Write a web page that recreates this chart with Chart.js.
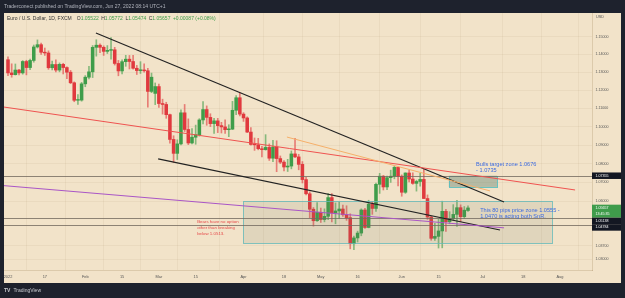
<!DOCTYPE html>
<html>
<head>
<title>EUR/USD 1D</title>
<script src="https://cdn.jsdelivr.net/npm/chart.js"></script>
<style>
  html, body { margin: 0; padding: 0; background: #1e222d; }
  canvas { display: block; }
</style>
</head>
<body>
<canvas id="chart" width="625" height="298"></canvas>
<script>
// daily candles, FXCM EUR/USD, Jan 3 - Jun 27 2022
const dates = [
  'Jan 3','Jan 4','Jan 5','Jan 6','Jan 7','Jan 10','Jan 11','Jan 12','Jan 13','Jan 14','Jan 17','Jan 18','Jan 19','Jan 20','Jan 21','Jan 24','Jan 25','Jan 26','Jan 27','Jan 28','Jan 31',
  'Feb 1','Feb 2','Feb 3','Feb 4','Feb 7','Feb 8','Feb 9','Feb 10','Feb 11','Feb 14','Feb 15','Feb 16','Feb 17','Feb 18','Feb 21','Feb 22','Feb 23','Feb 24','Feb 25','Feb 28',
  'Mar 1','Mar 2','Mar 3','Mar 4','Mar 7','Mar 8','Mar 9','Mar 10','Mar 11','Mar 14','Mar 15','Mar 16','Mar 17','Mar 18','Mar 21','Mar 22','Mar 23','Mar 24','Mar 25','Mar 28','Mar 29','Mar 30','Mar 31',
  'Apr 1','Apr 4','Apr 5','Apr 6','Apr 7','Apr 8','Apr 11','Apr 12','Apr 13','Apr 14','Apr 15','Apr 18','Apr 19','Apr 20','Apr 21','Apr 22','Apr 25','Apr 26','Apr 27','Apr 28','Apr 29',
  'May 2','May 3','May 4','May 5','May 6','May 9','May 10','May 11','May 12','May 13','May 16','May 17','May 18','May 19','May 20','May 23','May 24','May 25','May 26','May 27','May 30','May 31',
  'Jun 1','Jun 2','Jun 3','Jun 6','Jun 7','Jun 8','Jun 9','Jun 10','Jun 13','Jun 14','Jun 15','Jun 16','Jun 17','Jun 20','Jun 21','Jun 22','Jun 23','Jun 24','Jun 27'
];
const opens = [
  1.1370,1.1296,1.1286,1.1312,1.1296,1.1360,1.1326,1.1366,1.1442,1.1455,1.1412,1.1408,1.1325,1.1343,1.1312,1.1344,1.1326,1.1300,1.1241,1.1144,1.1145,
  1.1235,1.1272,1.1302,1.1440,1.1452,1.1440,1.1417,1.1423,1.1426,1.1349,1.1307,1.1359,1.1373,1.1360,1.1322,1.1309,1.1310,1.1308,1.1193,1.1182,
  1.1220,1.1126,1.1121,1.1065,1.0930,1.0855,1.0906,1.1075,1.0984,1.0911,1.0942,1.0956,1.1036,1.1093,1.1050,1.1016,1.1031,1.1005,1.0998,1.0983,1.0986,1.1089,1.1158,
  1.1068,1.1047,1.0970,1.0903,1.0901,1.0880,1.0875,1.0887,1.0829,1.0889,1.0827,1.0808,1.0782,1.0787,1.0852,1.0836,1.0796,1.0715,1.0640,1.0559,1.0499,
  1.0543,1.0505,1.0522,1.0620,1.0540,1.0550,1.0560,1.0530,1.0515,1.0380,1.0410,1.0435,1.0555,1.0464,1.0585,1.0563,1.0690,1.0733,1.0676,1.0725,1.0733,1.0780,
  1.0733,1.0648,1.0750,1.0718,1.0695,1.0705,1.0716,1.0615,1.0518,1.0408,1.0418,1.0446,1.0548,1.0494,1.0509,1.0532,1.0567,1.0520,1.05522
];
const highs = [
  1.1386,1.1347,1.1346,1.1316,1.1365,1.1367,1.1374,1.1453,1.1482,1.1464,1.1436,1.1420,1.1363,1.1369,1.1352,1.1350,1.1330,1.1310,1.1246,1.1175,1.1243,
  1.1281,1.1333,1.1450,1.1483,1.1460,1.1448,1.1450,1.1495,1.1440,1.1366,1.1369,1.1395,1.1394,1.1395,1.1338,1.1359,1.1347,1.1321,1.1295,1.1240,
  1.1234,1.1150,1.1133,1.1068,1.0950,1.0928,1.1092,1.1121,1.1042,1.0989,1.1008,1.1043,1.1137,1.1113,1.1070,1.1045,1.1045,1.1023,1.1037,1.1010,1.1138,1.1170,1.1185,
  1.1076,1.1053,1.0995,1.0938,1.0936,1.0893,1.0956,1.0906,1.0925,1.0923,1.0841,1.0816,1.0823,1.0868,1.0936,1.0850,1.0811,1.0727,1.0650,1.0568,1.0594,
  1.0565,1.0561,1.0641,1.0641,1.0592,1.0597,1.0580,1.0577,1.0535,1.0419,1.0445,1.0561,1.0564,1.0606,1.0600,1.0696,1.0748,1.0737,1.0733,1.0765,1.0787,1.0782,
  1.0740,1.0751,1.0765,1.0751,1.0712,1.0748,1.0774,1.0634,1.0522,1.0485,1.0506,1.0601,1.0558,1.0546,1.0583,1.0605,1.0582,1.0573,1.05772
];
const lows = [
  1.1280,1.1272,1.1284,1.1285,1.1289,1.1285,1.1314,1.1356,1.1436,1.1400,1.1394,1.1316,1.1313,1.1302,1.1302,1.1290,1.1264,1.1236,1.1136,1.1121,1.1139,
  1.1219,1.1262,1.1270,1.1390,1.1410,1.1394,1.1405,1.1373,1.1340,1.1280,1.1290,1.1333,1.1318,1.1317,1.1287,1.1293,1.1300,1.1106,1.1186,1.1120,
  1.1104,1.1068,1.1045,1.0910,1.0806,1.0822,1.0901,1.0973,1.0902,1.0906,1.0904,1.0948,1.1014,1.1007,1.1000,1.0963,1.0967,1.0965,1.0962,1.0945,1.0983,1.1065,1.1058,
  1.1028,1.0967,1.0899,1.0871,1.0874,1.0836,1.0872,1.0817,1.0811,1.0757,1.0800,1.0761,1.0758,1.0772,1.0832,1.0767,1.0697,1.0634,1.0515,1.0471,1.0496,
  1.0490,1.0493,1.0505,1.0493,1.0483,1.0512,1.0521,1.0501,1.0354,1.0349,1.0389,1.0421,1.0459,1.0462,1.0532,1.0547,1.0642,1.0660,1.0661,1.0700,1.0719,1.0682,
  1.0627,1.0642,1.0702,1.0690,1.0654,1.0680,1.0615,1.0506,1.0398,1.0397,1.0358,1.0359,1.0444,1.0483,1.0500,1.0469,1.0494,1.0511,1.05474
];
const closes = [
  1.1296,1.1286,1.1312,1.1296,1.1360,1.1326,1.1366,1.1442,1.1455,1.1412,1.1408,1.1325,1.1343,1.1312,1.1344,1.1326,1.1300,1.1241,1.1144,1.1145,1.1235,
  1.1272,1.1302,1.1440,1.1452,1.1440,1.1417,1.1423,1.1426,1.1349,1.1307,1.1359,1.1373,1.1360,1.1322,1.1309,1.1310,1.1308,1.1193,1.1272,1.1220,
  1.1126,1.1121,1.1065,1.0930,1.0855,1.0906,1.1075,1.0984,1.0911,1.0942,1.0956,1.1036,1.1093,1.1050,1.1016,1.1031,1.1005,1.0998,1.0983,1.0986,1.1089,1.1158,1.1068,
  1.1047,1.0970,1.0903,1.0901,1.0880,1.0875,1.0887,1.0829,1.0889,1.0827,1.0808,1.0782,1.0787,1.0852,1.0836,1.0796,1.0715,1.0640,1.0559,1.0499,1.0543,
  1.0505,1.0522,1.0620,1.0540,1.0550,1.0560,1.0530,1.0515,1.0380,1.0410,1.0435,1.0555,1.0464,1.0585,1.0563,1.0690,1.0733,1.0676,1.0725,1.0733,1.0780,1.0733,
  1.0648,1.0750,1.0718,1.0695,1.0705,1.0716,1.0615,1.0518,1.0408,1.0418,1.0446,1.0548,1.0494,1.0509,1.0532,1.0567,1.0520,1.0554,1.05657
];

// time axis labels, position = trading-day index from Jan 3
const timeTickIndex = [0, 10, 21, 31, 41, 51, 64, 75, 85, 95, 107, 117, 129, 140, 150];
const timeTickLabels = ['2022', '17', 'Feb', '15', 'Mar', '15', 'Apr', '18', 'May', '16', 'Jun', '15', 'Jul', '18', 'Aug'];
const priceTicks = [1.03, 1.037, 1.06, 1.07, 1.08, 1.09, 1.10, 1.11, 1.12, 1.13, 1.14, 1.15];

// drawings made on the chart (day index, price)
const hLines = [1.07355, 1.05138, 1.04784];
const trendLines = [
  { from: [23.9, 1.1521], to: [134.8, 1.0597], color: '#222222', width: 1.2 },
  { from: [40.8, 1.0825], to: [133.7, 1.0451], color: '#222222', width: 1.2 },
  { from: [-1.2, 1.1107], to: [154.1, 1.0660], color: '#ef5350', width: 1 },
  { from: [75.8, 1.0943], to: [131.0, 1.0655], color: '#f6b06a', width: 1 },
  { from: [-1.2, 1.0683], to: [134.8, 1.0462], color: '#a955c6', width: 1 }
];
const zones = [
  { x0: 63.9, x1: 147.8, top: 1.0602, bottom: 1.0383, fill: 'rgba(110,120,100,0.13)', border: 'rgba(100,185,185,0.8)' },
  { x0: 119.8, x1: 132.9, top: 1.07355, bottom: 1.0676, fill: 'rgba(80,120,105,0.38)', border: 'rgba(90,190,190,0.9)' }
];
const notes = [
  { x: 127.2, y: 1.0796, size: 5.6, lines: ['Bulls target zone 1.0676', '- 1.0735'], color: '#3d6be0' },
  { x: 128.3, y: 1.0555, size: 5.6, lines: ['This 80 pips price zone 1.0555 -', '1.0470 is acting both SnR.'], color: '#3d6be0' },
  { x: 51.4, y: 1.0495, size: 4.4, lines: ['Bears have no option', 'other than breaking', 'below 1.0513.'], color: '#e64a4a' }
];
const priceTags = [
  { value: 1.07355, text: ['1.07355'], bg: '#131722' },
  { value: 1.05657, text: ['1.05657', '13:45:35'], bg: '#3f9c4b' },
  { value: 1.05138, text: ['1.05138'], bg: '#131722' },
  { value: 1.04784, text: ['1.04784'], bg: '#131722' }
];

const GREEN = '#3f9d4a', RED = '#e0393e';
const FONT = '"Liberation Sans", Arial, sans-serif';

const wicks = dates.map((d, i) => ({ x: i, y: [lows[i], highs[i]] }));
const bodies = dates.map((d, i) => ({ x: i, y: [opens[i], closes[i]] }));
const bodyColors = dates.map((d, i) => closes[i] >= opens[i] ? GREEN : RED);
const wickColors = dates.map((d, i) => closes[i] >= opens[i] ? 'rgba(63,157,74,0.6)' : 'rgba(224,57,62,0.6)');

const frame = {
  id: 'frame',
  beforeDraw(chart) {
    const ctx = chart.ctx;
    ctx.save();
    ctx.fillStyle = '#1e222d';
    ctx.fillRect(0, 0, chart.width, chart.height);
    ctx.fillStyle = '#f2e3c9';
    ctx.fillRect(4, 13, 617, 270);
    ctx.restore();
  },
  afterDraw(chart) {
    const { ctx, scales: { y } } = chart;
    ctx.save();
    ctx.fillStyle = '#1e222d';
    ctx.fillRect(0, 13, 4, 270);

    // price tags on the axis
    let prevBottom = -1e9;
    priceTags.forEach(t => {
      const py = y.getPixelForValue(t.value);
      const h = 6.5 * t.text.length;
      const top = Math.max(py - 3.25, prevBottom);
      ctx.fillStyle = t.bg;
      ctx.fillRect(592, top, 29, h);
      ctx.fillStyle = '#ffffff';
      ctx.font = '3.6px ' + FONT;
      ctx.textBaseline = 'middle';
      t.text.forEach((s, i) => ctx.fillText(s, 595.5, top + 3.3 + i * 6.5));
      prevBottom = top + h;
    });

    ctx.fillStyle = '#555';
    ctx.font = '3.8px ' + FONT;
    ctx.fillText('USD', 596, 17);

    // top banner
    ctx.fillStyle = '#b2b5be';
    ctx.font = '5px ' + FONT;
    ctx.textBaseline = 'middle';
    ctx.fillText('Traderconect published on TradingView.com, Jun 27, 2022 08:14 UTC+1', 4, 6.5);

    // legend line
    const parts = [
      ['Euro / U.S. Dollar, 1D, FXCM', '#333', 5],
      ['O', '#333', 0], ['1.05522', GREEN, 2.5],
      ['H', '#333', 0], ['1.05772', GREEN, 2.5],
      ['L', '#333', 0], ['1.05474', GREEN, 2.5],
      ['C', '#333', 0], ['1.05657', GREEN, 2.5],
      ['+0.00087 (+0.08%)', GREEN, 0]
    ];
    let lx = 7;
    parts.forEach(p => {
      ctx.fillStyle = p[1];
      ctx.fillText(p[0], lx, 18.3);
      lx += ctx.measureText(p[0]).width + p[2];
    });

    // bottom logo
    ctx.fillStyle = '#c9cbd1';
    ctx.font = 'bold 5px ' + FONT;
    ctx.fillText('TV', 4, 290.5);
    ctx.font = '5px ' + FONT;
    ctx.fillText('TradingView', 13.5, 290.5);
    ctx.restore();
  }
};

const drawings = {
  id: 'drawings',
  afterDatasetsDraw(chart) {
    const { ctx, chartArea: a, scales: { x, y } } = chart;
    ctx.save();
    ctx.beginPath();
    ctx.rect(a.left, a.top, a.right - a.left, a.bottom - a.top);
    ctx.clip();
    zones.forEach(z => {
      const x0 = x.getPixelForValue(z.x0), x1 = x.getPixelForValue(z.x1);
      const y0 = y.getPixelForValue(z.top), y1 = y.getPixelForValue(z.bottom);
      ctx.fillStyle = z.fill;
      ctx.fillRect(x0, y0, x1 - x0, y1 - y0);
      ctx.strokeStyle = z.border;
      ctx.lineWidth = 1;
      ctx.strokeRect(Math.round(x0) + 0.5, Math.round(y0) + 0.5, Math.round(x1 - x0), Math.round(y1 - y0));
    });
    hLines.forEach(p => {
      const py = Math.round(y.getPixelForValue(p)) + 0.5;
      ctx.strokeStyle = 'rgba(115,105,95,0.8)';
      ctx.lineWidth = 1;
      ctx.beginPath();
      ctx.moveTo(a.left, py);
      ctx.lineTo(a.right, py);
      ctx.stroke();
    });
    trendLines.forEach(l => {
      ctx.strokeStyle = l.color;
      ctx.lineWidth = l.width;
      ctx.beginPath();
      ctx.moveTo(x.getPixelForValue(l.from[0]), y.getPixelForValue(l.from[1]));
      ctx.lineTo(x.getPixelForValue(l.to[0]), y.getPixelForValue(l.to[1]));
      ctx.stroke();
    });
    ctx.restore();

    ctx.save();
    ctx.textBaseline = 'middle';
    notes.forEach(n => {
      ctx.fillStyle = n.color;
      ctx.font = n.size + 'px ' + FONT;
      const nx = x.getPixelForValue(n.x), ny = y.getPixelForValue(n.y);
      n.lines.forEach((s, i) => ctx.fillText(s, nx, ny + i * 6.3));
    });
    ctx.restore();
  }
};

new Chart(document.getElementById('chart'), {
  type: 'bar',
  data: {
    datasets: [
      { label: 'wick', data: wicks, backgroundColor: wickColors, barThickness: 1, grouped: false, order: 2 },
      { label: 'body', data: bodies, backgroundColor: bodyColors, barThickness: 2.9, minBarLength: 0.8, grouped: false, order: 1 }
    ]
  },
  options: {
    responsive: false,
    animation: false,
    layout: { padding: { left: 4, top: 13, right: 4, bottom: 15 } },
    plugins: { legend: { display: false }, tooltip: { enabled: false } },
    scales: {
      x: {
        type: 'linear',
        min: -1.087,
        max: 158.7,
        offset: false,
        grid: { color: 'rgba(120,90,40,0.06)', drawTicks: false },
        border: { color: 'rgba(120,90,40,0.18)' },
        ticks: {
          autoSkip: false,
          maxRotation: 0,
          padding: 4.5,
          color: '#555',
          font: { family: FONT, size: 3.9 },
          callback: (v, i) => timeTickLabels[i]
        },
        afterBuildTicks: s => { s.ticks = timeTickIndex.map(v => ({ value: v })); },
        afterFit: s => { s.height = 13; s.paddingLeft = 0; s.paddingRight = 0; }
      },
      y: {
        type: 'logarithmic',
        position: 'right',
        min: 1.0246,
        max: 1.1636,
        grid: { color: 'rgba(120,90,40,0.06)', drawTicks: false },
        border: { color: 'rgba(120,90,40,0.18)' },
        ticks: {
          autoSkip: false,
          padding: 3.5,
          color: '#555',
          font: { family: FONT, size: 3.6 },
          callback: v => Number(v).toFixed(5)
        },
        afterBuildTicks: s => { s.ticks = priceTicks.map(v => ({ value: v })); },
        afterFit: s => { s.width = 29; s.paddingTop = 0; s.paddingBottom = 0; }
      }
    }
  },
  plugins: [frame, drawings]
});
</script>
</body>
</html>
